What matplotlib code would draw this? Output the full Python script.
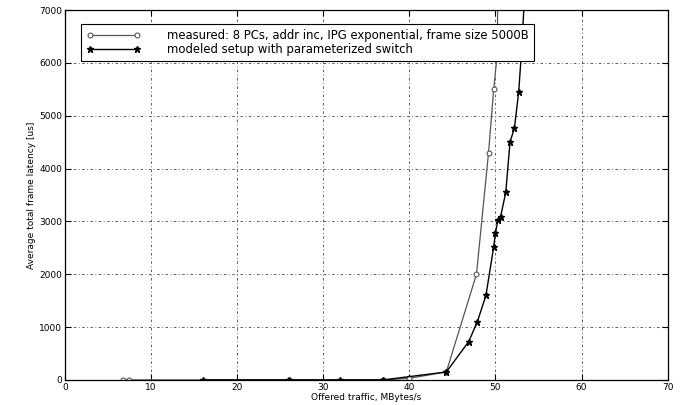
import matplotlib.pyplot as plt

# measured series (open circles)
meas_x = [6.8, 7.4, 26.0, 37.0, 40.0, 44.3, 47.8, 49.2, 49.8, 50.2, 50.3]
meas_y = [0, 0, 0, 0, 30, 150, 2000, 4300, 5500, 6150, 7600]

# modeled series (filled stars)
mod_x = [16.0, 26.0, 32.0, 37.0, 44.3, 46.9, 47.9, 48.9, 49.8, 50.0, 50.3,
         50.6, 51.2, 51.7, 52.2, 52.7, 53.0, 53.5]
mod_y = [0, 0, 0, 0, 150, 725, 1100, 1600, 2520, 2780, 3030,
         3090, 3550, 4510, 4760, 5450, 6150, 7600]

x_ticks = [0, 10, 20, 30, 40, 50, 60, 70]
y_ticks = [0, 1000, 2000, 3000, 4000, 5000, 6000, 7000]

meas_label = "measured: 8 PCs, addr inc, IPG exponential, frame size 5000B"
mod_label = "modeled setup with parameterized switch"

fig = plt.figure(figsize=(6.82, 4.05), dpi=100)
ax = fig.add_axes([0.095, 0.062, 0.884, 0.913])

ax.plot(meas_x, meas_y, color='#555555', lw=0.9, marker='o', ms=3.5,
        mfc='white', mec='#555555', mew=0.8, label=meas_label)
ax.plot(mod_x, mod_y, color='black', lw=1.0, marker='*', ms=5,
        mfc='black', mec='black', label=mod_label)

ax.set_xlim(0, 70)
ax.set_ylim(0, 7000)
ax.set_xticks(x_ticks)
ax.set_yticks(y_ticks)
ax.tick_params(direction='in', top=True, right=True, labelsize=6.5,
               length=4, width=0.8, pad=2)
ax.grid(True, color='#444444', lw=0.6, linestyle=(0, (3, 3, 1, 3)))
for s in ax.spines.values():
    s.set_linewidth(0.9)

ax.set_xlabel("Offered traffic, MBytes/s", fontsize=6.5, labelpad=1)
ax.set_ylabel("Average total frame latency [us]", fontsize=6.5, labelpad=2)

leg = ax.legend(loc='upper left', bbox_to_anchor=(0.018, 0.978), fontsize=8.4,
                fancybox=False, edgecolor='black', framealpha=1, numpoints=2,
                handlelength=4.6, borderpad=0.45, handletextpad=2.3,
                labelspacing=0.05)
leg.get_frame().set_linewidth(0.8)

fig.savefig("out.png", dpi=100)
